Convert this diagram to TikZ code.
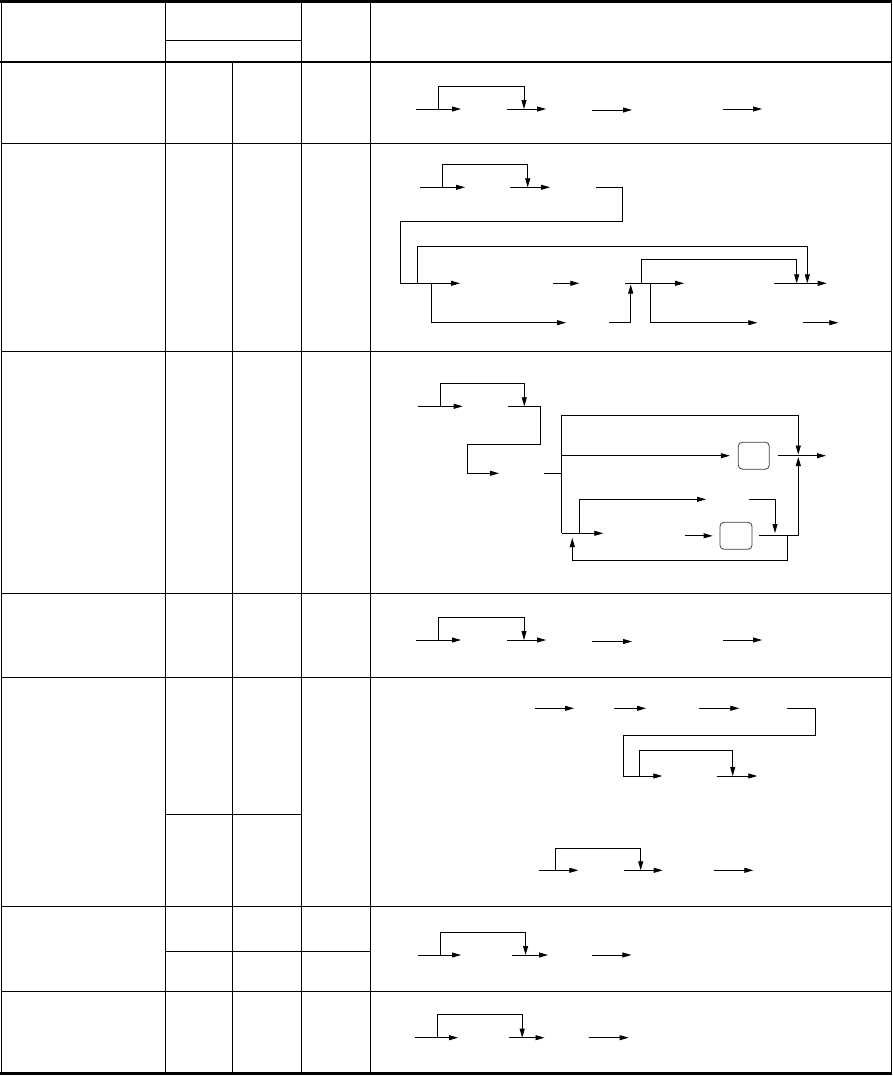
\documentclass[tikz,border=0pt]{standalone}
\usetikzlibrary{arrows.meta}
\begin{document}
\begin{tikzpicture}[x=1pt,y=-1pt,
  grid/.style={line width=1pt},
  thickrule/.style={line width=2.2pt},
  ln/.style={line width=0.8pt},
  arr/.style={ln,-{Triangle[length=9pt,width=5pt]}},
  rbox/.style={draw=black!75,line width=0.8pt,rounded corners=4pt,minimum width=31pt,minimum height=27pt,inner sep=0pt}]
\useasboundingbox (0,0) rectangle (892,1076);
% ---------- table ----------
\draw[grid] (1,1) -- (1,1073);
\draw[grid] (891,1) -- (891,1073);
\draw[thickrule] (0,1.5) -- (892,1.5);
\draw[thickrule] (0,62) -- (892,62);
\draw[thickrule] (0,1073.5) -- (892,1073.5);
\foreach \y in {143,351,593,677,906,991} \draw[grid] (1,\y) -- (891,\y);
\draw[grid] (165,1.5) -- (165,1073);
\draw[grid] (301.5,1.5) -- (301.5,1073);
\draw[grid] (370,1.5) -- (370,1073);
\draw[grid] (232,62) -- (232,1073);
\draw[grid] (165,40) -- (301.5,40);
\draw[grid] (165,814) -- (301.5,814);
\draw[grid] (165,951) -- (370,951);
% ---------- row 1 ----------
\begin{scope}[shift={(416,109)}]
\draw[arr] (0,0) -- (45,0);
\draw[arr] (22.7,0) -- (22.7,-23) -- (108,-23) -- (108,0);
\draw[arr] (91,0) -- (130,0);
\draw[arr] (176,1) -- (216,1);
\draw[arr] (307,0) -- (346,0);
\end{scope}
% ---------- row 2 ----------
\draw[arr] (420,187.3) -- (465,187.3);
\draw[arr] (442.3,187.3) -- (442.3,164.3) -- (527.7,164.3) -- (527.7,187.3);
\draw[arr] (510,187.3) -- (550,187.3);
\draw[arr] (596,187.3) -- (622.3,187.3) -- (622.3,221) -- (400,221) -- (400,283.3) -- (460,283.3);
\draw[arr] (417.7,283.3) -- (417.7,246.7) -- (807.3,246.7) -- (807.3,283.3);
\draw[arr] (431,283.3) -- (431,322.7) -- (566,322.7);
\draw[arr] (553.3,283.3) -- (579.3,283.3);
\draw[arr] (609.3,322.7) -- (630.7,322.7) -- (630.7,284.5);
\draw[arr] (625,283.3) -- (684,283.3);
\draw[arr] (641.7,283.3) -- (641.7,259.3) -- (796.7,259.3) -- (796.7,283.3);
\draw[arr] (650.7,283.3) -- (650.7,322.7) -- (757.3,322.7);
\draw[arr] (774.3,283.3) -- (826.7,283.3);
\draw[arr] (803.3,322.7) -- (838.3,322.7);
% ---------- row 3 ----------
\node[rbox] (b1) at (753.8,455.7) {};
\node[rbox,minimum width=32pt] (b2) at (736,535.8) {};
\draw[arr] (418.3,406.3) -- (462.7,406.3);
\draw[arr] (440.7,406.3) -- (440.7,383.3) -- (524.3,383.3) -- (524.3,406.3);
\draw[arr] (508.3,406.3) -- (540,406.3) -- (540,444) -- (467.3,444) -- (467.3,473.3) -- (499,473.3);
\draw[ln] (544.3,473.3) -- (561.7,473.3);
\draw[ln] (561.7,415) -- (561.7,533.3);
\draw[arr] (561.7,415) -- (798.3,415) -- (798.3,454.5);
\draw[arr] (561.7,455.7) -- ([xshift=-8pt]b1.west);
\draw[arr] ([xshift=8pt]b1.east) -- (826,455.7);
\draw[arr] (561.7,533.3) -- (603.3,533.3);
\draw[arr] (579.3,533.3) -- (579.3,499.3) -- (706,499.3);
\draw[arr] (749.3,499.3) -- (775,499.3) -- (775,533);
\draw[arr] (685,535.8) -- ([xshift=-7pt]b2.west);
\draw[ln] ([xshift=7pt]b2.east) -- (798.3,535.8);
\draw[arr] (798.3,535.8) -- (798.3,457);
\draw[arr] (787.7,535.8) -- (787.7,560.7) -- (572.3,560.7) -- (572.3,538);
% ---------- row 4 ----------
\begin{scope}[shift={(416,640)}]
\draw[arr] (0,0) -- (45,0);
\draw[arr] (22.7,0) -- (22.7,-23) -- (108,-23) -- (108,0);
\draw[arr] (91,0) -- (130,0);
\draw[arr] (176,1.5) -- (216,1.5);
\draw[arr] (307,0) -- (346,0);
\end{scope}
% ---------- row 5 ----------
\draw[arr] (535,708.3) -- (574,708.3);
\draw[arr] (614,708.3) -- (646,708.3);
\draw[arr] (699,708.3) -- (739.3,708.3);
\draw[arr] (787.3,708.3) -- (815,708.3) -- (815,735.7) -- (623.3,735.7) -- (623.3,776) -- (662.3,776);
\draw[arr] (639,776) -- (639,750) -- (732.7,750) -- (732.7,776);
\draw[arr] (716.7,776) -- (757.3,776);
\draw[arr] (539.3,870.3) -- (578.3,870.3);
\draw[arr] (555,870.3) -- (555,848.3) -- (640.7,848.3) -- (640.7,870.3);
\draw[arr] (624,870.3) -- (662.7,870.3);
\draw[arr] (714,870.3) -- (753.3,870.3);
% ---------- row 6 ----------
\begin{scope}[shift={(418,955)}]
\draw[arr] (0,0) -- (43,0);
\draw[arr] (22.3,0) -- (22.3,-23) -- (107.6,-23) -- (107.6,0);
\draw[arr] (94,0) -- (130,0);
\draw[arr] (174,0) -- (213.4,0);
\end{scope}
% ---------- row 7 ----------
\begin{scope}[shift={(415,1037.7)}]
\draw[arr] (0,0) -- (43,0);
\draw[arr] (22,0) -- (22,-23.4) -- (107.2,-23.4) -- (107.2,0);
\draw[arr] (94,0) -- (129.5,0);
\draw[arr] (173.7,0) -- (213.6,0);
\end{scope}
\end{tikzpicture}
\end{document}
